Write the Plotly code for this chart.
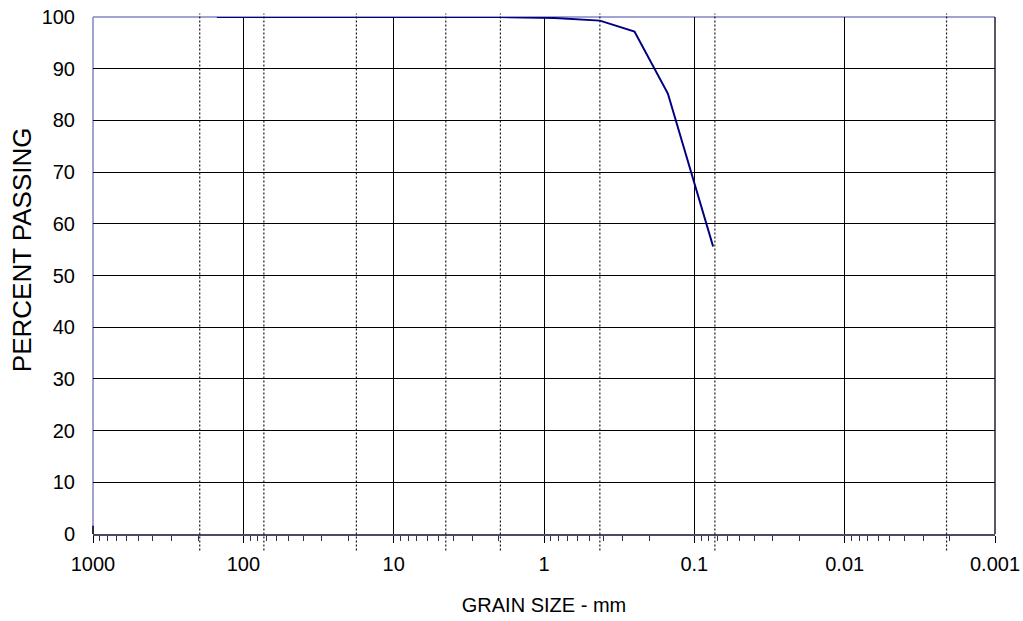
import plotly.graph_objects as go

# Sieve analysis result: grain size (mm) vs percent passing
grain_size_mm = [150, 75, 50, 37.5, 25, 19, 12.5, 9.5, 4.75, 2.0, 0.85, 0.425, 0.25, 0.15, 0.075]
percent_passing = [100, 100, 100, 100, 100, 100, 100, 100, 100, 100, 99.8, 99.3, 97.2, 85.2, 55.6]

# Soil classification boundaries (mm), drawn as dotted verticals
boundary_sizes = [195, 73, 17.7, 4.5, 1.95, 0.425, 0.073, 0.0021]

# Axis ticks
x_tick_vals = [1000, 100, 10, 1, 0.1, 0.01, 0.001]
x_tick_text = ["1000", "100", "10", "1", "0.1", "0.01", "0.001"]
y_tick_vals = list(range(0, 101, 10))

minor_vals = [k * 10 ** e for e in range(-3, 3) for k in range(2, 10)]

FONT = "Arial, Liberation Sans, sans-serif"
BORDER_LIGHT = "#8383c4"
DARK = "#000000"

fig = go.Figure()

fig.add_trace(go.Scatter(
    x=grain_size_mm, y=percent_passing, mode="lines",
    line=dict(color="#000080", width=2), showlegend=False, hoverinfo="x+y",
))

shapes = []
for v in boundary_sizes:
    shapes.append(dict(type="line", xref="x", yref="paper", x0=v, x1=v,
                       y0=-0.032, y1=1.007,
                       line=dict(color="#1a1a1a", width=1.2, dash="2px,2px"), layer="above"))
# plot-area frame: light top/left edges, dark right edge
shapes.append(dict(type="line", xref="paper", yref="paper", x0=0, x1=1, y0=1, y1=1,
                   line=dict(color=BORDER_LIGHT, width=1.5), layer="below"))
shapes.append(dict(type="line", xref="paper", yref="paper", x0=0, x1=0, y0=0, y1=1,
                   line=dict(color=BORDER_LIGHT, width=1.5), layer="below"))
shapes.append(dict(type="line", xref="paper", yref="paper", x0=0, x1=0, y0=0, y1=0.016,
                   line=dict(color=DARK, width=1.5), layer="above"))
shapes.append(dict(type="line", xref="paper", yref="paper", x0=1, x1=1, y0=0, y1=1,
                   line=dict(color="#222233", width=1.5), layer="below"))

fig.update_layout(
    width=1023, height=621,
    margin=dict(l=93, r=28, t=16.5, b=86.5),
    paper_bgcolor="white", plot_bgcolor="white",
    font=dict(family=FONT, size=20, color="black"),
    shapes=shapes,
    xaxis=dict(
        type="log", range=[3, -3], automargin=False,
        tickmode="array", tickvals=x_tick_vals, ticktext=x_tick_text,
        ticks="outside", ticklen=7, tickcolor=DARK, tickwidth=1,
        ticklabelstandoff=4,
        showgrid=True, gridcolor=DARK, gridwidth=1,
        showline=True, linecolor="#4a4a66", linewidth=1.5,
        zeroline=False,
        tickfont=dict(family=FONT, size=20),
        title=dict(text="GRAIN SIZE - mm", font=dict(family=FONT, size=20), standoff=24),
        minor=dict(tickmode="array", tickvals=minor_vals, ticks="outside",
                   ticklen=5, tickcolor="#333333", tickwidth=1, showgrid=False),
    ),
    yaxis=dict(
        range=[0, 100], tickmode="array", tickvals=y_tick_vals, automargin=False,
        showgrid=True, gridcolor=DARK, gridwidth=1,
        showline=False, zeroline=False, ticks="",
        ticklabelstandoff=17,
        tickfont=dict(family=FONT, size=20),
    ),
    annotations=[dict(
        text="PERCENT PASSING", textangle=-90, showarrow=False,
        xref="paper", yref="paper", x=-0.0787, y=0.549,
        xanchor="center", yanchor="middle",
        font=dict(family=FONT, size=26, color="black"),
    )],
)

fig.write_html("out.html")
